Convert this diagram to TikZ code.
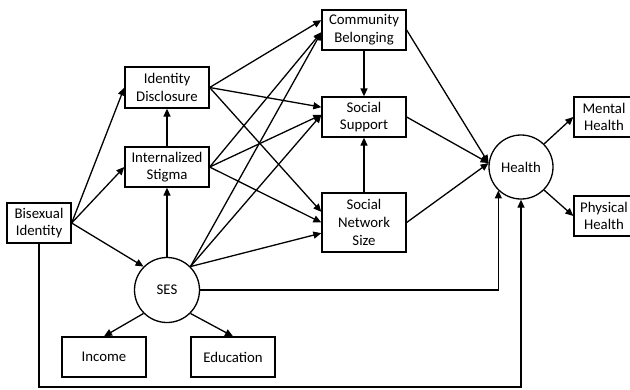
\documentclass[tikz,border=0pt]{standalone}
\usepackage{fontspec}
\setmainfont{Carlito}
\usetikzlibrary{arrows.meta}

\begin{document}
\begin{tikzpicture}[x=1pt, y=-1pt,
    box/.style={draw, line width=1.3pt, minimum width=84pt, minimum height=40pt,
        align=center, inner sep=2pt, font=\fontsize{14.8}{17.7}\selectfont},
    latent/.style={draw, circle, line width=1.3pt, minimum size=65pt,
        inner sep=0pt, font=\fontsize{14.8}{17.7}\selectfont},
    arr/.style={line width=1.3pt, -{Triangle[length=8pt, width=7pt]}}]

    \useasboundingbox (0,0) rectangle (630,389);

    % left part
    \node[box, minimum width=64pt] (bis) at (39,223) {Bisexual\\Identity};
    \node[box, minimum height=41pt] (disc) at (167,87.5) {Identity\\Disclosure};
    \node[box] (stig) at (167,167) {Internalized\\Stigma};
    \node[latent] (ses) at (167,290) {SES};
    \node[box] (inc) at (104,357) {Income};
    \node[box] (edu) at (233,357) {Education};

    % mediators
    \node[box] (comm) at (364,30) {Community\\Belonging};
    \node[box] (supp) at (364,117) {Social\\Support};
    \node[box, minimum height=59pt] (netw) at (364,222.5) {Social\\Network\\Size};

    % outcomes
    \node[latent, minimum size=64pt] (hlth) at (521,167) {Health};
    \node[box, minimum width=60pt] (ment) at (604,117) {Mental\\Health};
    \node[box, minimum width=60pt] (phys) at (604,216) {Physical\\Health};

    \coordinate (bend) at (521,387);

    \draw[arr] (bis.east) -- (disc.west);
    \draw[arr] (bis.east) -- (stig.west);
    \draw[arr] (bis.east) -- (ses.135);
    \draw[arr] (stig.north) -- (disc.south);
    \draw[arr] (ses.north) -- (stig.south);
    \draw[arr] (ses.225) -- (inc.north);
    \draw[arr] (ses.-45) -- (edu.north);

    \draw[arr] (disc.east) -- (comm.167);
    \draw[arr] (disc.east) -- (supp.167);
    \draw[arr] (disc.east) -- (netw.166);
    \draw[arr] (stig.east) -- (comm.183);
    \draw[arr] (stig.east) -- (supp.177);
    \draw[arr] (stig.east) -- (netw.west);
    \draw[arr] (ses.45) -- (comm.183);
    \draw[arr] (ses.45) -- (supp.177);
    \draw[arr] (ses.45) -- (netw.194);

    \draw[arr] (comm.south) -- (supp.north);
    \draw[arr] (netw.north) -- (supp.south);
    \draw[arr] (comm.east) -- (hlth.173);
    \draw[arr] (supp.east) -- (hlth.173);
    \draw[arr] (netw.east) -- (hlth.173);

    \draw[arr] (ses.east) -| (hlth.226);
    \draw[arr] (bis.south) |- (bend) -- (hlth.south);

    \draw[arr] (hlth.45) -- (ment.west);
    \draw[arr] (hlth.-45) -- (phys.west);

\end{tikzpicture}
\end{document}
